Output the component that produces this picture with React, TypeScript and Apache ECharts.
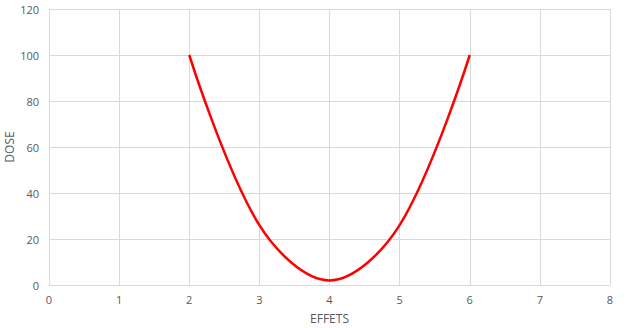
import React, { useEffect, useRef } from "react";
import * as echarts from "echarts";

const effets = [2, 3, 4, 5, 6];
const dose = [100, 26, 2, 26, 100];
const xTicks = { min: 0, max: 8, interval: 1 };
const yTicks = { min: 0, max: 120, interval: 20 };

export default function App() {
  const ref = useRef<HTMLDivElement>(null);
  useEffect(() => {
    if (!ref.current) return;
    const chart = echarts.init(ref.current, undefined, { renderer: "svg" });
    const font = "'Open Sans', 'Liberation Sans', sans-serif";
    chart.setOption({
      animation: false,
      grid: { left: 49, right: 21, top: 9, bottom: 43, containLabel: false, outerBoundsMode: "none" },
      xAxis: {
        type: "value",
        ...xTicks,
        name: "EFFETS",
        nameLocation: "middle",
        nameGap: 27,
        nameMoveOverlap: false,
        nameTextStyle: { color: "#595959", fontSize: 12, fontFamily: font },
        axisLine: { show: true, lineStyle: { color: "#d9d9d9", width: 1 } },
        axisTick: { show: false },
        axisLabel: { color: "#595959", fontSize: 11, fontFamily: font, margin: 9 },
        splitLine: { show: true, lineStyle: { color: "#d9d9d9", width: 1 } },
      },
      yAxis: {
        type: "value",
        ...yTicks,
        name: "DOSE",
        nameLocation: "middle",
        nameGap: 34,
        nameMoveOverlap: false,
        nameTextStyle: { color: "#595959", fontSize: 12, fontFamily: font },
        axisLine: { show: false },
        axisTick: { show: false },
        axisLabel: { color: "#595959", fontSize: 11, fontFamily: font, margin: 10 },
        splitLine: { show: true, lineStyle: { color: "#d9d9d9", width: 1 } },
      },
      series: [
        {
          type: "line",
          data: effets.map((x, i) => [x, dose[i]]),
          smooth: 0.35,
          showSymbol: false,
          lineStyle: { color: "#ff0000", width: 2.5 },
        },
      ],
    });
    return () => chart.dispose();
  }, []);
  return <div ref={ref} style={{ width: 631, height: 328, position: "absolute", left: 0, top: 0 }} />;
}
